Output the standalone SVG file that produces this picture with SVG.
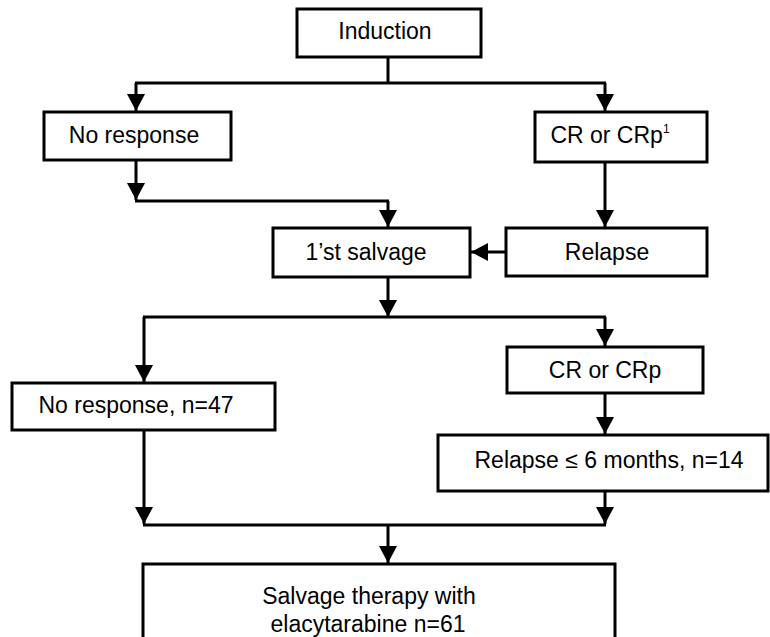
<svg xmlns="http://www.w3.org/2000/svg" width="770" height="637" viewBox="0 0 770 637">
<style>
.box{fill:#fff;stroke:#000;stroke-width:3}
.t{font-family:"Liberation Sans",Arial,sans-serif;font-size:23px;fill:#000;text-anchor:middle}
.c{fill:none;stroke:#000;stroke-width:3}
</style>
<defs>
<marker id="ah" markerUnits="userSpaceOnUse" markerWidth="18" markerHeight="18" viewBox="0 0 18 18" refX="17" refY="9" orient="auto">
<path d="M0,0 L17,9 L0,18 Z" fill="#000"/>
</marker>
</defs>
<rect width="770" height="637" fill="#fff"/>
<g id="connectors">
<line class="c" x1="388" y1="57" x2="388" y2="83"/>
<line class="c" x1="135" y1="83" x2="606" y2="83"/>
<line class="c" x1="136" y1="83" x2="136" y2="111" marker-end="url(#ah)"/>
<line class="c" x1="605" y1="83" x2="605" y2="111" marker-end="url(#ah)"/>
<line class="c" x1="136" y1="160" x2="136" y2="200" marker-end="url(#ah)"/>
<line class="c" x1="135" y1="201" x2="389" y2="201"/>
<line class="c" x1="388" y1="201" x2="388" y2="227" marker-end="url(#ah)"/>
<line class="c" x1="605" y1="162" x2="605" y2="227" marker-end="url(#ah)"/>
<line class="c" x1="506" y1="252" x2="471" y2="252" marker-end="url(#ah)"/>
<line class="c" x1="388" y1="277" x2="388" y2="317" marker-end="url(#ah)"/>
<line class="c" x1="143" y1="317" x2="606" y2="317"/>
<line class="c" x1="144" y1="317" x2="144" y2="382" marker-end="url(#ah)"/>
<line class="c" x1="605" y1="317" x2="605" y2="346" marker-end="url(#ah)"/>
<line class="c" x1="144" y1="430" x2="144" y2="524" marker-end="url(#ah)"/>
<line class="c" x1="605" y1="393" x2="605" y2="434" marker-end="url(#ah)"/>
<line class="c" x1="605" y1="491" x2="605" y2="524" marker-end="url(#ah)"/>
<line class="c" x1="143" y1="525" x2="606" y2="525"/>
<line class="c" x1="388" y1="525" x2="388" y2="563" marker-end="url(#ah)"/>
</g>
<g id="induction">
<rect class="box" x="297" y="9" width="184" height="48"/>
<text class="t" x="385" y="39">Induction</text>
</g>
<g id="no-response-1">
<rect class="box" x="44" y="112" width="187" height="48"/>
<text class="t" x="134" y="143">No response</text>
</g>
<g id="cr-1">
<rect class="box" x="535" y="112" width="172" height="50"/>
<text class="t" x="610" y="143">CR or CRp<tspan font-size="12" dy="-10">1</tspan></text>
</g>
<g id="salvage-1">
<rect class="box" x="273" y="228" width="197" height="49"/>
<text class="t" x="366" y="260">1’st salvage</text>
</g>
<g id="relapse-1">
<rect class="box" x="506" y="228" width="201" height="48"/>
<text class="t" x="607" y="260">Relapse</text>
</g>
<g id="no-response-2">
<rect class="box" x="12" y="383" width="263" height="47"/>
<text class="t" x="136" y="413">No response, n=47</text>
</g>
<g id="cr-2">
<rect class="box" x="507" y="347" width="196" height="46"/>
<text class="t" x="605" y="378">CR or CRp</text>
</g>
<g id="relapse-2">
<rect class="box" x="438" y="435" width="330" height="56"/>
<text class="t" x="609" y="468">Relapse ≤ 6 months, n=14</text>
</g>
<g id="elacytarabine">
<rect class="box" x="143" y="564" width="472" height="80"/>
<text class="t" x="369" y="604">Salvage therapy with</text>
<text class="t" x="368" y="632">elacytarabine n=61</text>
</g>
</svg>
